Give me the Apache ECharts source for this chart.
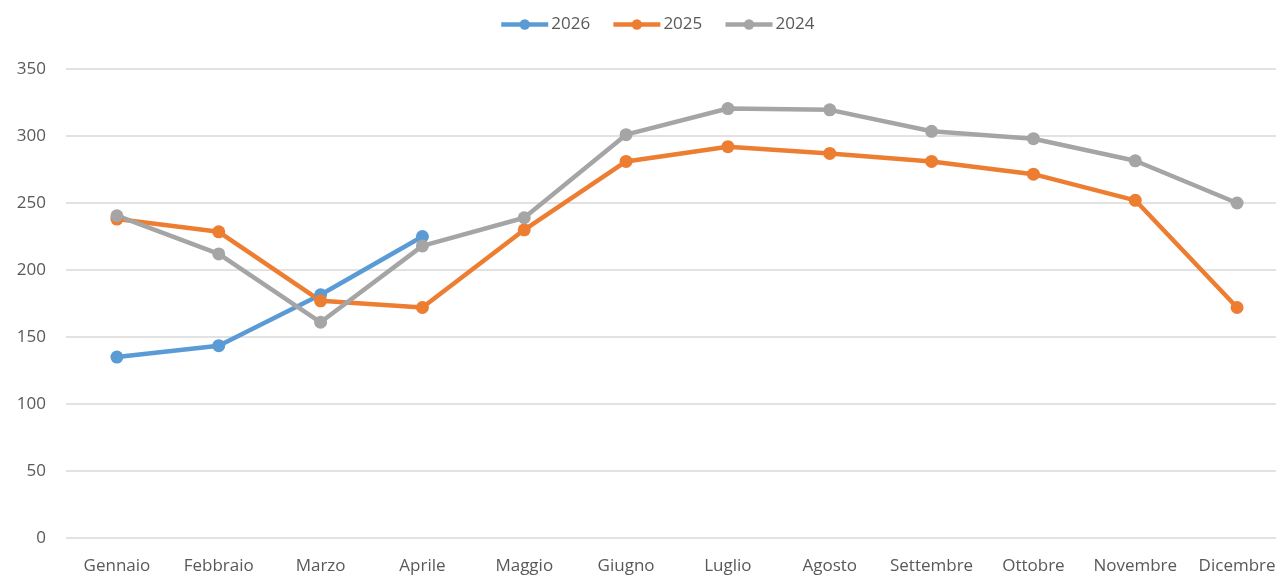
<!DOCTYPE html>
<html>
<head>
<meta charset="utf-8">
<script src="https://cdn.jsdelivr.net/npm/echarts@6/dist/echarts.min.js"></script>
<style>html,body{margin:0;padding:0;background:#fff;overflow:hidden;width:1276px;height:575px;}#c{width:1288px;height:575px;}</style>
</head>
<body>
<div id="c"></div>
<script>
const categories = ["Gennaio","Febbraio","Marzo","Aprile","Maggio","Giugno","Luglio","Agosto","Settembre","Ottobre","Novembre","Dicembre"];
const s2026 = [135, 143.5, 181.5, 225, null, null, null, null, null, null, null, null];
const s2025 = [238, 228.5, 177, 172, 230, 281, 292, 287, 281, 271.5, 252, 172];
const s2024 = [240.5, 212, 161, 218, 239, 301, 320.5, 319.5, 303.5, 298, 281.5, 250];
const seriesNames = ["2026","2025","2024"];
const colors = ["#5B9BD5","#ED7D31","#A5A5A5"];
const FONT = "'Open Sans', 'Noto Sans', sans-serif";

const chart = echarts.init(document.getElementById('c'));
const mk = (name, data, color) => ({
  name, type: 'line', data, color,
  symbol: 'circle', symbolSize: 13,
  lineStyle: {width: 4.5, color},
  itemStyle: {color},
  connectNulls: false
});
chart.setOption({
  animation: false,
  textStyle: {fontFamily: FONT},
  legend: {
    top: 11, left: 494,
    itemWidth: 47, itemHeight: 13, itemGap: 21,
    lineStyle: {width: 4.5},
    textStyle: {fontSize: 17, color: '#595959', fontFamily: FONT, padding: [0,0,0,-2]},
    data: seriesNames
  },
  grid: {left: 66, right: 0, top: 69, bottom: 37, containLabel: false},
  xAxis: {
    type: 'category', data: categories, boundaryGap: true,
    axisLine: {show: false}, axisTick: {show: false},
    axisLabel: {fontSize: 17, color: '#595959', margin: 20, fontFamily: FONT, interval: 0}
  },
  yAxis: {
    type: 'value', min: 0, max: 350, interval: 50,
    axisLine: {show: false}, axisTick: {show: false},
    splitLine: {lineStyle: {color: '#D9D9D9', width: 1.5}},
    axisLabel: {fontSize: 17, color: '#595959', margin: 20, fontFamily: FONT}
  },
  series: [mk(seriesNames[0], s2026, colors[0]), mk(seriesNames[1], s2025, colors[1]), mk(seriesNames[2], s2024, colors[2])]
});
</script>
</body>
</html>
